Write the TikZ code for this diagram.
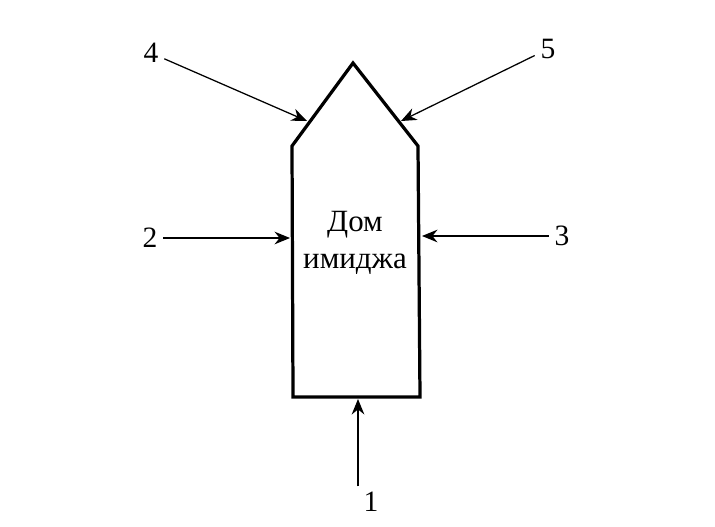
\documentclass[tikz,border=0pt]{standalone}
\usepackage{fontspec}
\setmainfont{Liberation Serif}
\usetikzlibrary{arrows.meta}
\tikzset{hs/.style={draw,line width=2.3pt,line join=miter},
 lb/.style={font=\fontsize{21}{23}\selectfont,inner sep=4pt},
 ar/.style={-{Stealth[length=11pt,width=9pt]},line width=0.9pt},
 tx/.style={align=center,font=\fontsize{22}{26}\selectfont}}
\begin{document}
\begin{tikzpicture}[x=0.025cm,y=-0.025cm]
\useasboundingbox (0,0) rectangle (715,526);
% house outline
\coordinate(bl)at(293,397);\coordinate(br)at(420,397);\coordinate(sl)at(292,146);\coordinate(sr)at(418,146);\coordinate(tp)at(353,63);
\draw[hs](bl)--(sl)--(tp)--(sr)--(br)--cycle;
\node[tx](t)at(355,243){Дом\\имиджа};
% entry points
\coordinate(p1)at(358,399);\coordinate(p2)at(290,238);\coordinate(p3)at(422,236);\coordinate(p4)at(307,121);\coordinate(p5)at(401,121);
\node[lb](l1)at(371,502){1};\node[lb](l2)at(150,238){2};\node[lb](l3)at(562,236){3};\node[lb](l4)at(151,53){4};\node[lb](l5)at(548,49){5};
\draw[ar](p1|-l1.north)--(p1);\draw[ar](l2)--(p2);\draw[ar](l3)--(p3);\draw[ar](l4)--(p4);\draw[ar](l5)--(p5);
\end{tikzpicture}
\end{document}
